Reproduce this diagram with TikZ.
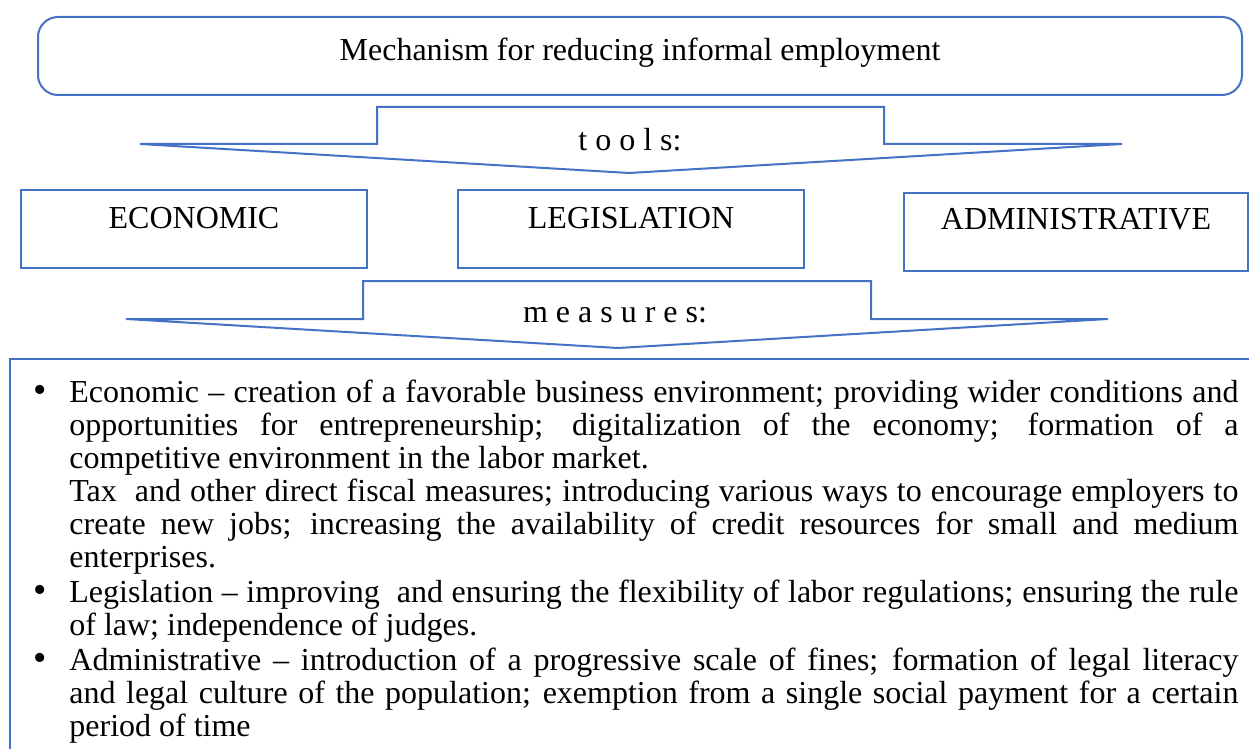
\documentclass[tikz,border=0pt]{standalone}
\usepackage{fontspec}
\setmainfont{Liberation Serif}
\usepackage{enumitem}
\usetikzlibrary{positioning}

\definecolor{boxblue}{RGB}{68,114,196}

\tikzset{
  frame/.style={draw=boxblue, line width=1pt},
  catbox/.style={frame, inner sep=0pt, anchor=north west, minimum width=173pt,
    text height=19pt, text depth=20pt, font=\fontsize{16}{19}\selectfont},
  blockarrow/.style={frame, fill=white, line join=miter},
  spaced/.style={anchor=base, inner sep=0pt, font=\fontsize{16}{19}\selectfont},
}

\begin{document}
\begin{tikzpicture}[x=0.5pt,y=-0.5pt]

  \clip (0,0) rectangle (1249,749);

  %% title
  \node[frame, rounded corners=10pt, inner sep=0pt, anchor=north west,
    minimum width=602pt, text height=22pt, text depth=17pt,
    font=\fontsize{16}{19}\selectfont] (title) at (37,16)
    {Mechanism for reducing informal employment};

  %% tools arrow
  \draw[blockarrow] (377,107) -- (884,107) -- (884,144) -- (1122,144)
    -- (629,173) -- (140,144) -- (377,144) -- cycle;
  \node[spaced] (tools) at (630,151) {t o o l s:};

  %% kinds of tools
  \node[catbox] (economic) at (20,189) {ECONOMIC};
  \node[catbox] (legislation) at (457,189) {LEGISLATION};
  \node[catbox, minimum width=172pt, text height=18pt, text depth=21pt]
    (administrative) at (903,192) {ADMINISTRATIVE};

  %% measures arrow
  \draw[blockarrow] (363,281) -- (871,281) -- (871,319) -- (1108,319)
    -- (618,348) -- (126,319) -- (363,319) -- cycle;
  \node[spaced] (measures) at (615,322) {m e a s u r e s:};

  %% list of measures
  \draw[frame] (10,359) rectangle (1280,780);
  \node[anchor=north west, inner sep=0pt, text width=607pt, align=justify,
    font=\fontsize{16}{16.5}\selectfont] (measurelist) at (24,369) {%
    \begin{itemize}[leftmargin=22.5pt, labelsep=11pt, labelwidth=7pt,
      label={\fontsize{19}{19}\selectfont\textbullet},
      align=left, topsep=0pt, partopsep=0pt, itemsep=1pt, parsep=0pt]
    \item Economic -- creation of a favorable business environment; providing
      wider conditions and\linebreak opportunities for entrepreneurship;
      digitalization of the economy; formation of a\linebreak competitive
      environment in the labor market.\par
      Tax~ and other direct fiscal measures; introducing various ways to
      encourage employers to\linebreak create new jobs; increasing the
      availability of credit resources for small and medium\linebreak
      enterprises.
    \item Legislation -- improving~ and ensuring the flexibility of labor
      regulations; ensuring the rule\linebreak of law; independence of judges.
    \item Administrative -- introduction of a progressive scale of fines;
      formation of legal literacy\linebreak and legal culture of the
      population; exemption from a single social payment for a
      certain\linebreak period of time
    \end{itemize}};

\end{tikzpicture}
\end{document}
